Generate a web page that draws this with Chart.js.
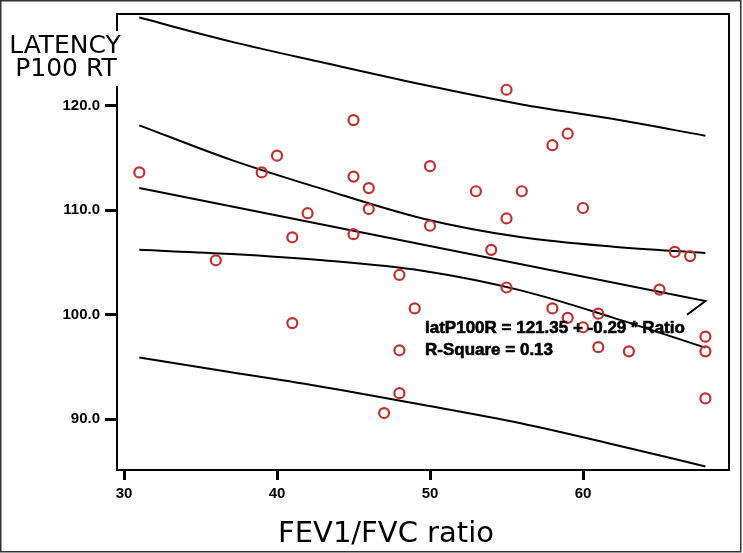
<!DOCTYPE html>
<html>
<head>
<meta charset="utf-8">
<script src="https://cdn.jsdelivr.net/npm/chart.js@4.4.1/dist/chart.umd.min.js"></script>
<style>
  html, body { margin: 0; padding: 0; background: #fff; }
  #wrap { width: 743px; height: 553px; }
</style>
</head>
<body>
<div id="wrap"><canvas id="latChart" width="743" height="553"></canvas></div>
<script>
// Scatter of P100 latency (right eye) against FEV1/FVC ratio, with fit and bands

const fevRatio = [31, 36, 39, 40, 41, 41, 42, 45, 45, 45, 46, 46, 47, 48, 48, 48, 49, 50, 50, 53,
                  54, 55, 55, 55, 56, 58, 58, 59, 59, 60, 60, 61, 61, 63, 65, 66, 67, 68, 68, 68];
const latency = [113.6, 105.2, 113.6, 115.2, 107.4, 99.2, 109.7, 118.6, 113.2, 107.7, 112.1, 110.1, 90.6, 103.8, 96.6, 92.5, 100.6, 114.2, 108.5, 111.8,
                 106.2, 121.5, 109.2, 102.6, 111.8, 116.2, 100.6, 117.3, 99.7, 110.2, 98.8, 100.1, 96.9, 96.5, 102.4, 106.0, 105.6, 97.9, 96.5, 92.0];

// regression line (with the little kink at the right end)
const fitX = [31, 68, 66.8];
const fitY = [112.1, 101.3, 100.0];

// confidence / prediction bands read at these ratios
const bandX = [31, 37, 43, 49.5, 56, 62, 68];
const upperMeanY = [118.1, 114.8, 112.0, 109.2, 107.4, 106.5, 105.9];
const lowerMeanY = [106.2, 105.8, 105.2, 104.2, 102.3, 99.7, 96.85];
const upperPredY = [128.4, 126.1, 124.1, 122.0, 120.1, 118.7, 117.1];
const lowerPredY = [95.9, 94.5, 93.1, 91.4, 89.6, 87.6, 85.5];

const xTicks = [30, 40, 50, 60];
const yTicks = [90, 100, 110, 120];

const equationText = ['latP100R = 121.35 + -0.29 * Ratio', 'R-Square = 0.13'];
const yTitle = ['LATENCY', 'P100 RT'];
const xTitle = 'FEV1/FVC ratio';

function toPoints(xs, ys) {
  return xs.map((x, i) => ({ x: x, y: ys[i] }));
}

function bandDataset(ys) {
  return {
    data: toPoints(bandX, ys),
    showLine: true,
    borderColor: '#000',
    borderWidth: 2,
    pointRadius: 0,
    cubicInterpolationMode: 'monotone'
  };
}

// titles, equation and outer frame drawn by hand
const decorPlugin = {
  id: 'decor',
  afterDraw(chart) {
    const ctx = chart.ctx;
    const area = chart.chartArea;
    ctx.save();
    // top and right frame of the plot
    ctx.strokeStyle = '#000';
    ctx.lineWidth = 2;
    ctx.beginPath();
    ctx.moveTo(area.left, area.top);
    ctx.lineTo(area.right, area.top);
    ctx.lineTo(area.right, area.bottom);
    ctx.stroke();

    // equation (a thin stroke makes it look as heavy as the original)
    ctx.fillStyle = '#000';
    ctx.strokeStyle = '#000';
    ctx.lineWidth = 0.6;
    ctx.font = 'bold 17px "Liberation Sans", Arial, sans-serif';
    ctx.textAlign = 'left';
    ctx.textBaseline = 'alphabetic';
    equationText.forEach((line, i) => {
      ctx.fillText(line, 425, 333 + i * 22);
      ctx.strokeText(line, 425, 333 + i * 22);
    });

    // y title over a white patch (it hides the axis there)
    ctx.fillStyle = '#fff';
    ctx.fillRect(0, 31, 121, 55);
    ctx.fillStyle = '#000';
    ctx.font = '25px "DejaVu Sans", Verdana, sans-serif';
    ctx.textAlign = 'center';
    ctx.fillText(yTitle[0], 65, 53);
    ctx.fillText(yTitle[1], 66, 76);

    // x title
    ctx.font = '29px "DejaVu Sans", Verdana, sans-serif';
    ctx.fillText(xTitle, 386, 542);

    // outer border of the figure
    ctx.strokeStyle = '#333';
    ctx.lineWidth = 1.5;
    ctx.strokeRect(0.75, 0.75, 740, 551);
    ctx.restore();
  }
};

const ctx = document.getElementById('latChart').getContext('2d');
new Chart(ctx, {
  type: 'scatter',
  data: {
    datasets: [
      {
        data: toPoints(fevRatio, latency),
        showLine: false,
        pointRadius: 5,
        pointBorderWidth: 2.2,
        pointBorderColor: '#c0302e',
        pointBackgroundColor: 'rgba(255,255,255,0)',
        order: 0
      },
      {
        data: toPoints(fitX, fitY),
        showLine: true,
        borderColor: '#000',
        borderWidth: 2,
        pointRadius: 0,
        tension: 0
      },
      bandDataset(upperMeanY),
      bandDataset(lowerMeanY),
      bandDataset(upperPredY),
      bandDataset(lowerPredY)
    ]
  },
  options: {
    responsive: false,
    animation: false,
    layout: { padding: { top: 11, right: 14, left: 0, bottom: 0 } },
    plugins: {
      legend: { display: false },
      tooltip: { enabled: false },
      title: { display: false }
    },
    scales: {
      x: {
        type: 'linear',
        min: 29.542,
        max: 69.542,
        afterBuildTicks: (scale) => { scale.ticks = xTicks.map(v => ({ value: v })); },
        afterFit: (scale) => { scale.height = 83; },
        grid: { drawOnChartArea: false, drawTicks: true, tickLength: 10, tickWidth: 3, tickColor: '#000' },
        border: { display: true, color: '#000', width: 2 },
        ticks: {
          color: '#000',
          font: { family: 'Liberation Sans, Arial, sans-serif', size: 15, weight: 'bold' },
          padding: 5,
          maxRotation: 0,
          callback: (v) => String(v)
        }
      },
      y: {
        type: 'linear',
        min: 85.158,
        max: 128.74,
        afterBuildTicks: (scale) => { scale.ticks = yTicks.map(v => ({ value: v })); },
        afterFit: (scale) => { scale.width = 117; },
        grid: { drawOnChartArea: false, drawTicks: true, tickLength: 12, tickWidth: 3, tickColor: '#000' },
        border: { display: true, color: '#000', width: 2 },
        ticks: {
          color: '#000',
          font: { family: 'Liberation Sans, Arial, sans-serif', size: 15, weight: 'bold' },
          padding: 5,
          callback: (v) => Number(v).toFixed(1)
        }
      }
    }
  },
  plugins: [decorPlugin]
});
</script>
</body>
</html>
